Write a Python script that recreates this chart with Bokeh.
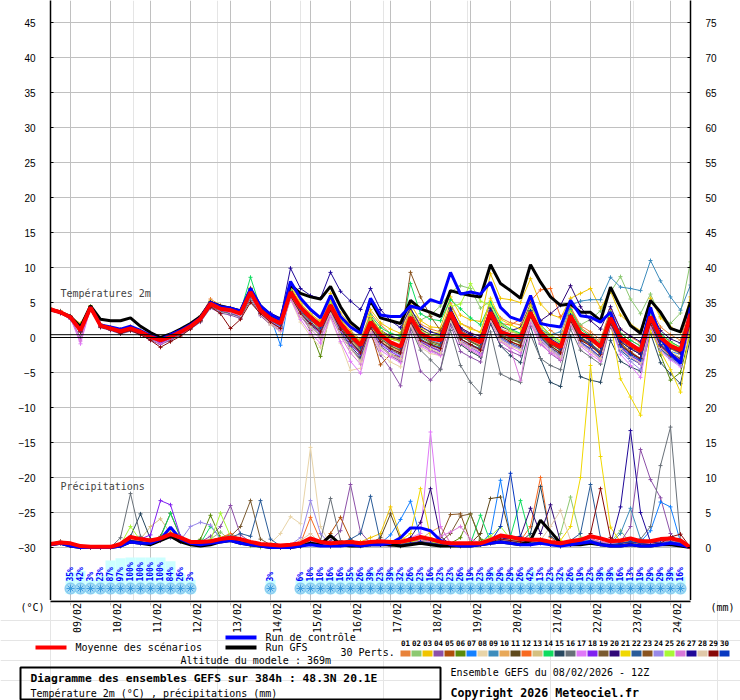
import math
from bokeh.plotting import figure
from bokeh.models import Range1d, LinearAxis, FixedTicker, Label, Span, Grid
from bokeh.embed import file_html
from bokeh.resources import INLINE
from bokeh.core.properties import value

# ---------------- data ----------------
hours = list(range(0, 385, 6))                      # forecast steps (h) from 08/02 12Z
day_ticks = list(range(12, 384, 24))                # 00Z of each day
date_labels = ["09/02", "10/02", "11/02", "12/02", "13/02", "14/02", "15/02", "16/02",
               "17/02", "18/02", "19/02", "20/02", "21/02", "22/02", "23/02", "24/02"]
temp_ticks = list(range(-30, 50, 5))
mm_ticks = list(range(0, 80, 5))

snow_hours = [12, 18, 24, 30, 36, 42, 48, 54, 60, 66, 72, 78, 84, 132] + list(range(150, 384, 6))
snow_pct = [35, 42, 3, 23, 87, 97, 100, 100, 100, 100, 84, 26, 3, 3,
            6, 10, 10, 16, 16, 35, 26, 39, 23, 39, 32,
            26, 23, 16, 23, 23, 26, 19, 23, 39, 29,
            29, 26, 42, 13, 23, 32, 26, 19, 23, 39,
            39, 16, 13, 19, 29, 29, 39, 16]

member_ids = ["%02d" % k for k in range(1, 31)]
member_colors = ["#e8823a", "#8cc870", "#f0c400", "#8c50a8", "#b04e0a", "#5a8a0a", "#1480ff", "#e8d4a8",
                 "#3c8cbc", "#e8a858", "#604a1c", "#f86a20", "#d4c080", "#10dc60", "#284860", "#687078",
                 "#e078f8", "#8020f0", "#7a5a30", "#300878", "#f0d800", "#2a5c98", "#8a5420", "#9888e8",
                 "#a8f838", "#d878d8", "#200898", "#e0c8a8", "#880808", "#0838c0"]

# 2 m temperature (°C)
t_mean = [4.0,3.6,2.9,1.0,4.3,1.7,1.3,0.9,1.3,0.8,0.1,-0.4,0.1,0.8,1.6,
 2.7,4.8,4.1,3.9,3.4,6.5,3.9,2.7,2.0,6.5,4.3,2.9,1.7,4.6,2.0,0.3,-1.1,
 2.2,0.4,-0.7,-1.3,2.9,0.6,-0.1,-0.4,3.6,0.6,-0.1,-0.7,3.6,0.8,0.3,0.0,3.6,0.8,-0.6,-1.4,3.1,0.6,-0.1,-1.3,2.8,0.0,-1.0,-1.9,3.0,0.0,-1.2,-1.8,3.4]
t_ctrl = [4.0,3.6,2.9,1.0,4.3,1.8,1.5,1.2,1.6,1.0,0.3,-0.3,0.4,1.0,1.8,
 2.8,5.0,4.4,4.2,3.8,7.0,4.5,3.3,2.5,8.0,5.6,4.0,2.8,6.0,3.0,1.5,0.6,
 5.6,3.2,3.0,3.0,4.5,4.1,5.4,4.9,9.3,6.2,6.5,6.2,7.9,4.3,2.9,2.4,6.0,2.0,1.7,1.5,5.3,3.1,2.9,2.2,3.6,0.0,-0.9,-1.9,4.3,0.0,-2.3,-3.7,4.3]
t_gfs = [4.0,3.6,3.0,1.5,4.5,2.6,2.4,2.4,2.8,1.6,0.7,0.0,0.5,1.2,2.0,
 3.0,5.0,4.5,4.2,3.8,6.8,4.5,3.2,2.6,7.5,6.3,5.8,5.5,7.3,4.4,2.2,1.0,
 5.3,2.8,2.4,2.0,5.3,4.1,3.6,3.0,6.7,6.3,6.0,5.8,10.4,7.7,6.7,5.6,10.4,7.9,5.8,4.6,4.8,3.6,3.6,2.4,7.2,4.3,1.7,0.6,5.3,3.6,1.3,0.8,5.0]

t01 = [4.2,3.8,3.0,1.3,4.4,1.9,1.5,1.2,1.6,1.0,0.4,-0.1,0.3,1.0,1.9,
 3.1,5.5,4.6,4.3,3.9,7.1,4.3,3.2,2.4,7.2,4.9,3.4,2.3,5.3,2.6,1.0,-0.3,
 3.5,1.8,0.6,0.2,4.1,1.9,1.2,0.8,4.9,2.0,1.4,0.7,5.0,2.8,2.1,1.8,5.4,2.4,1.0,0.1,4.4,1.7,0.8,-0.3,4.0,1.2,0.1,-0.8,4.2,1.5,0.4,-0.4,4.8]
t02 = [3.9,3.5,2.8,0.8,4.4,1.6,1.1,0.7,1.2,0.6,-0.1,-0.6,0.0,0.7,1.5,
 2.5,4.6,4.0,3.6,3.2,6.6,3.6,2.5,1.7,6.8,4.0,2.6,1.5,4.9,1.8,0.0,-1.2,
 2.6,0.9,0.1,-0.3,3.8,2.5,3.2,4.5,6.5,7.4,7.0,4.2,5.2,2.0,1.0,0.5,3.8,1.2,0.2,-0.8,3.5,1.8,2.6,3.8,6.5,8.7,5.5,3.4,6.2,3.0,2.0,3.5,10.8]
t03 = [4.1,3.7,3.0,2.0,4.5,1.8,1.4,1.0,1.5,0.9,0.2,-0.3,0.3,1.0,1.8,
 2.9,5.2,4.4,4.1,3.6,6.9,4.2,3.0,2.3,7.6,5.2,3.8,2.6,6.3,3.5,1.8,0.6,
 4.0,2.1,1.2,0.6,4.8,2.4,1.5,1.4,5.8,3.2,2.5,2.3,9.1,5.6,5.4,5.0,8.4,4.8,3.3,2.8,5.6,6.3,7.0,4.2,6.6,3.2,1.9,1.0,5.6,2.8,1.5,0.8,5.8]
t04 = [3.8,3.4,2.6,0.0,4.0,1.4,1.0,0.5,0.9,0.4,-0.4,-1.0,-0.4,0.4,1.2,
 2.2,4.2,3.5,3.2,2.7,5.8,3.1,1.8,0.9,5.8,3.2,1.6,0.3,3.4,0.5,-1.5,-3.0,
 0.4,-2.5,-4.5,-6.9,1.0,-4.8,-6.1,-4.5,1.8,-2.0,-2.8,-3.5,2.0,-1.2,-2.0,-2.6,2.5,-0.8,-2.3,-3.3,1.8,-0.6,-1.8,-3.0,1.5,-1.5,-2.9,-3.8,1.8,-1.6,-3.0,-3.6,2.2]
t05 = [4.0,3.6,2.8,0.9,4.2,1.5,1.2,0.7,1.1,0.6,-0.2,-0.8,-0.2,0.6,1.4,
 2.4,4.4,3.8,3.5,3.0,6.1,3.5,2.2,1.4,6.0,3.6,2.1,0.9,3.9,1.2,-0.8,-2.3,
 1.0,-3.9,-2.4,-2.8,2.1,-0.6,-1.4,-1.9,2.8,-0.5,-1.2,-1.6,3.0,0.2,-0.6,-1.1,2.8,0.0,-1.5,-2.4,2.2,-0.4,-1.0,-2.4,1.9,-0.8,-2.0,-3.0,2.0,-1.0,-2.3,-3.2,2.4]
t06 = [3.9,3.5,2.8,0.9,4.2,1.6,1.2,0.8,1.2,0.7,0.0,-0.5,0.0,0.7,1.5,
 2.6,4.7,4.0,3.8,3.3,6.3,3.6,2.3,1.5,6.2,3.4,1.0,-2.7,3.8,1.5,-0.2,-1.8,
 1.6,-0.2,-1.2,-1.9,2.3,0.1,-0.8,-1.2,3.0,0.2,-0.6,-1.4,3.1,0.3,-0.3,-0.8,3.0,0.2,-1.2,-2.1,2.5,0.0,-0.9,-2.0,2.1,-0.8,-2.2,-3.2,1.8,-2.5,-6.1,-5.0,0.8]
t07 = [4.0,3.6,2.9,1.0,4.3,1.7,1.4,1.0,1.4,0.9,0.2,-0.3,0.2,0.9,1.7,
 2.8,5.0,4.3,4.1,3.6,6.8,4.1,2.9,-1.1,6.9,4.6,3.1,1.9,4.8,2.2,0.5,-0.8,
 2.6,0.6,-0.6,-1.2,3.4,0.9,0.0,-0.3,4.0,0.8,-0.2,-0.8,4.2,1.2,0.4,-0.2,3.9,0.6,-0.8,-1.8,3.4,0.4,-0.6,-2.4,2.0,-1.8,-3.0,-3.6,2.4,-0.6,-2.0,-2.4,2.6]
t08 = [4.1,3.7,3.0,1.2,4.4,1.9,1.5,1.0,1.4,0.9,0.2,-0.3,0.2,0.9,1.8,
 2.9,5.0,4.2,3.9,3.3,6.2,3.3,1.8,0.8,5.5,2.2,0.2,-1.4,2.8,-0.8,-4.7,-4.4,
 0.8,-2.2,-3.5,-4.2,1.6,-1.4,-2.3,-2.6,2.4,-1.0,-2.0,-2.8,2.6,-0.6,-1.2,-1.8,2.8,-0.2,-1.6,-2.8,2.6,-0.4,-1.2,-2.6,2.4,-1.0,-2.2,-3.0,2.8,-0.8,-2.0,-2.8,3.0]
t09 = [4.0,3.6,2.9,1.0,4.3,1.7,1.3,0.9,1.3,0.8,0.1,-0.4,0.1,0.8,1.6,
 2.7,4.9,4.2,4.0,3.5,6.6,4.0,2.8,2.1,6.5,4.2,2.7,1.5,4.4,1.6,-0.2,-1.6,
 1.8,0.0,-1.0,-1.6,2.6,0.4,-0.4,-0.9,3.4,0.4,-0.5,-1.2,3.4,0.6,0.0,-0.5,3.5,1.2,0.4,0.8,4.6,5.2,5.4,5.4,8.6,7.2,7.0,6.7,11.0,8.1,5.8,3.9,7.5]
t10 = [4.1,3.7,3.0,1.1,4.4,1.8,1.3,0.9,1.3,0.8,0.1,-0.4,0.2,0.9,1.7,
 2.8,4.9,4.1,3.8,3.2,6.4,3.7,2.4,1.6,6.1,3.8,2.3,1.1,4.2,1.4,-0.3,-1.8,
 1.6,-0.4,-1.4,-2.0,2.6,0.2,-0.6,-1.0,3.2,0.4,-0.4,-1.0,3.4,1.2,0.8,0.4,3.6,1.0,-0.2,-1.0,3.0,0.2,-0.5,-1.6,2.6,-0.6,-1.6,-2.4,2.5,-0.5,-1.6,-2.4,3.0]
t11 = [3.9,3.5,2.8,0.8,4.2,1.6,1.2,0.8,1.2,0.7,-0.1,-0.6,-0.1,0.6,1.4,
 2.5,4.7,4.0,3.7,3.2,6.4,3.6,2.4,1.6,6.2,3.8,2.5,1.3,4.3,1.5,-0.5,-2.0,
 1.4,-0.6,-1.8,-2.4,2.2,-0.4,-1.2,-1.5,2.9,-0.2,-1.0,-1.8,3.0,0.4,-0.2,-0.7,3.2,0.4,-1.0,-1.8,2.6,-0.2,-1.0,-2.2,2.2,-1.2,-2.2,-3.0,2.2,-1.0,-2.2,-3.0,2.4]
t12 = [4.2,3.8,3.1,1.2,4.5,1.9,1.4,1.0,1.4,0.9,0.2,-0.3,0.2,0.9,1.7,
 2.8,5.0,4.3,4.0,3.5,6.7,4.0,2.8,2.0,6.6,4.4,3.0,1.8,4.7,2.1,0.4,-0.9,
 2.5,0.8,-0.2,-0.6,3.4,1.2,0.4,0.0,4.0,1.4,0.6,0.2,4.2,2.0,1.8,2.6,5.2,6.8,7.0,3.0,4.2,1.4,0.4,-0.6,3.4,0.6,-0.4,-1.2,3.2,0.4,-0.6,-1.4,3.6]
t13 = [4.0,3.6,2.9,1.0,4.4,1.7,1.3,0.9,1.4,0.9,0.2,-0.3,0.2,0.9,1.7,
 2.8,4.8,4.1,3.8,3.3,6.4,3.8,2.6,1.8,6.4,4.1,2.6,1.4,4.4,1.8,0.0,-1.3,
 2.0,0.2,-0.8,-1.4,2.8,0.6,-0.2,-0.6,3.4,0.4,-0.4,-1.0,3.4,0.8,0.2,-0.2,3.6,0.8,-0.4,-1.4,3.0,0.4,-0.4,-1.6,2.8,-0.4,-1.4,-2.2,3.0,-0.2,-1.2,-2.0,3.4]
t14 = [4.1,3.7,3.0,1.8,4.5,1.8,1.4,1.0,1.4,0.9,0.2,-0.3,0.3,1.0,1.8,
 2.9,5.1,4.4,4.2,3.7,8.6,4.2,3.0,2.2,7.0,4.6,3.1,1.9,5.0,2.4,0.6,-0.6,
 3.2,1.4,0.6,0.2,7.7,3.4,2.6,2.4,5.4,4.1,2.8,1.8,5.0,2.2,1.2,0.6,4.6,1.8,0.4,-0.6,4.0,1.2,0.2,-0.8,3.6,0.6,-0.4,-1.2,3.4,0.6,-0.6,-1.4,3.8]
t15 = [3.9,3.5,2.8,0.9,4.1,1.5,1.1,0.7,1.1,0.6,-0.1,-0.7,-0.2,0.6,1.4,
 2.4,4.5,3.8,3.5,3.0,6.0,3.4,2.1,1.2,5.8,3.4,1.8,0.6,3.6,0.8,-1.2,-2.8,
 1.0,-1.2,-2.4,-3.0,1.8,-0.8,-1.8,-2.4,2.2,-1.0,-2.0,-2.8,2.0,-1.2,-2.6,-3.6,1.6,-3.0,-6.4,-7.0,0.2,-5.6,-6.1,-6.4,-0.4,-3.4,-4.2,-4.8,0.6,-3.6,-5.2,-6.6,0.0]
t16 = [3.9,3.5,2.7,0.8,4.0,1.5,1.1,0.6,1.0,0.5,-0.2,-0.8,-0.3,0.5,1.3,
 2.3,4.4,3.7,3.4,2.9,5.3,3.3,2.0,1.1,5.6,3.1,1.5,0.2,3.2,0.4,-1.6,-3.2,
 0.8,-1.2,-2.6,-3.4,1.4,-1.8,-3.2,-4.6,1.0,-4.0,-6.4,-8.0,0.8,-5.2,-5.9,-6.4,0.4,-3.0,-4.0,-4.6,1.2,-1.8,-2.8,-3.8,1.6,-1.4,-2.6,-3.4,2.0,-1.6,-3.0,-4.0,1.8]
t17 = [4.0,3.6,2.8,-0.9,4.2,1.6,1.2,0.8,1.2,0.6,-0.1,-0.9,-0.2,0.6,1.5,
 2.6,4.6,3.9,3.6,3.1,6.1,3.3,2.0,1.0,5.5,2.6,0.6,-0.8,3.0,-0.6,-3.4,-5.1,
 0.8,-1.8,-2.8,-3.6,1.8,-1.2,-2.0,-2.6,2.4,-0.8,-1.6,-2.4,2.6,-0.4,-1.4,-2.2,2.4,-0.8,-2.0,-3.0,2.0,-1.2,-2.4,-3.4,1.8,-2.4,-4.0,-5.7,1.4,-2.0,-3.2,-4.2,2.0]
t18 = [3.9,3.5,2.7,0.9,4.1,1.6,1.2,0.8,1.1,0.6,-0.1,-0.7,-0.1,0.6,1.4,
 2.5,4.6,3.9,3.6,3.0,6.2,3.6,2.3,1.4,6.0,3.6,2.0,0.6,3.8,1.0,-1.0,-2.4,
 1.2,-1.0,-2.0,-2.8,2.0,-0.6,-1.4,-2.0,2.6,-0.6,-1.4,-2.2,2.8,-0.2,-1.0,-1.6,2.8,-0.4,-1.8,-2.8,2.4,-0.8,-1.6,-2.8,2.2,-1.4,-2.6,-3.4,2.2,-1.2,-2.4,-3.2,2.6]
t19 = [4.0,3.6,2.9,1.0,4.3,1.7,1.3,0.9,1.3,0.8,0.1,-0.4,0.1,0.8,1.6,
 2.7,4.8,4.1,3.8,3.3,6.4,3.8,2.6,1.8,6.3,4.0,2.5,1.3,4.2,1.6,-0.1,-1.5,
 1.8,-0.2,-1.2,-1.8,2.6,0.2,-0.6,-1.0,3.2,0.2,-0.6,-1.2,3.2,0.4,-0.2,-0.6,3.4,0.6,-0.6,-1.6,2.8,0.0,-0.8,-2.0,2.4,-0.6,-1.6,-2.4,2.6,-0.4,-1.6,-2.2,3.0]
t20 = [4.1,3.7,3.0,1.1,4.4,1.8,1.4,1.0,1.4,0.9,0.2,-0.3,0.2,0.9,1.7,
 2.8,5.0,4.3,4.1,3.6,6.8,4.2,3.0,2.3,7.0,4.6,3.2,2.0,5.0,2.4,0.6,-0.6,
 2.8,1.0,0.2,-0.2,3.6,1.2,0.4,0.2,4.2,1.4,0.6,0.2,4.2,1.6,1.0,1.4,4.8,2.4,3.4,4.6,7.4,4.4,2.4,1.2,4.4,1.2,0.2,-0.6,3.8,1.0,-0.2,-0.8,3.8]
t21 = [4.1,3.7,3.0,1.2,4.5,1.9,1.5,1.1,1.5,1.0,0.3,-0.2,0.3,1.0,1.8,
 3.0,5.2,4.5,4.2,3.7,7.0,4.3,3.1,2.3,7.3,4.8,3.4,2.2,5.2,2.6,0.8,-0.5,
 3.0,1.0,0.0,-0.4,3.8,1.4,0.8,0.6,4.6,2.0,1.2,0.8,5.6,2.6,1.8,1.2,4.6,1.6,0.4,-0.4,3.6,0.8,0.0,-1.0,2.2,-5.9,-8.5,-11.1,1.0,-2.0,-4.6,-7.8,2.0]
t22 = [4.0,3.6,2.9,1.0,4.3,1.7,1.2,0.8,1.2,0.7,0.0,-0.5,0.0,0.7,1.5,
 2.6,4.7,4.0,3.7,3.2,6.3,3.7,2.4,1.6,6.1,3.7,2.2,1.0,4.0,1.2,-0.6,-2.0,
 1.4,-0.6,-1.6,-2.2,2.2,-0.2,-1.0,-1.4,2.8,-0.2,-1.0,-1.6,3.0,0.0,-0.8,-1.4,3.0,0.0,-1.4,-2.4,2.4,-0.6,-1.6,-2.8,1.8,-1.8,-3.0,-3.8,1.6,-1.6,-2.8,-3.6,2.4]
t23 = [4.1,3.7,3.0,1.1,4.4,1.8,1.4,1.0,1.4,0.9,0.2,-0.3,0.2,0.9,1.7,
 2.8,4.9,4.2,4.0,3.5,6.6,4.0,2.8,2.0,6.7,4.4,3.0,1.8,4.9,2.3,0.6,-0.7,
 2.6,0.8,0.0,-0.4,9.3,5.8,3.0,1.0,4.0,1.0,0.2,-0.4,3.8,0.8,0.2,-0.2,3.8,0.8,-0.4,-1.2,3.2,0.4,-0.4,-1.4,2.8,-0.4,-1.4,-2.2,2.8,-0.4,-1.4,-2.2,3.2]
t24 = [4.0,3.6,2.9,1.0,4.3,1.7,1.3,0.9,1.3,0.8,0.1,-0.5,0.0,0.7,1.6,
 2.7,4.8,4.0,3.7,3.2,6.3,3.6,2.3,1.5,6.0,3.6,2.1,0.8,3.8,1.0,-0.8,-2.2,
 1.2,-0.8,-1.8,-2.6,2.0,-0.4,-1.2,-1.8,2.6,-0.4,-1.2,-2.0,2.8,-0.2,-1.0,-1.6,2.8,-0.2,-1.6,-2.6,2.4,-0.8,-1.8,-3.0,1.8,-2.0,-3.4,-4.6,1.6,-1.8,-3.0,-4.0,2.2]
t25 = [4.1,3.7,3.0,1.1,4.4,1.8,1.4,1.0,1.4,0.9,0.2,-0.3,0.2,0.9,1.7,
 2.8,4.9,4.2,4.0,3.5,6.7,4.1,2.9,2.1,6.8,4.5,3.1,1.9,4.9,2.3,0.5,-0.7,
 2.6,0.8,-0.2,-0.6,3.4,1.0,0.4,0.2,4.4,4.8,7.7,5.2,4.6,1.8,1.0,0.4,4.0,1.2,0.0,-0.8,3.4,0.6,-0.2,-1.2,3.0,0.0,-1.0,-1.8,3.2,0.2,-0.8,-1.6,3.6]
t26 = [4.0,3.6,2.8,-0.5,4.2,1.6,1.2,0.8,1.2,0.7,-0.1,-0.6,-0.1,0.6,1.4,
 2.5,4.6,3.9,3.6,3.1,6.1,3.4,2.1,1.2,5.7,3.0,1.2,-0.2,3.4,0.2,-2.2,-3.8,
 0.8,-1.4,-2.6,-3.2,1.8,-1.0,-1.8,-2.4,2.4,-0.8,-1.8,-2.6,2.4,-0.6,-1.6,-6.1,2.0,-1.0,-2.2,-3.2,2.0,-1.0,-2.0,-3.2,1.8,-1.6,-2.8,-3.8,1.6,-1.4,-2.6,-3.6,2.2]
t27 = [4.1,3.7,3.0,1.1,4.4,1.8,1.4,1.0,1.4,0.9,0.2,-0.3,0.2,0.9,1.7,
 2.9,5.1,4.4,4.2,3.8,7.0,4.5,3.5,2.8,9.9,7.0,6.0,5.6,9.3,6.6,5.2,4.0,
 7.0,4.0,2.4,1.4,4.2,1.6,0.8,0.4,4.2,1.2,0.4,-0.2,3.8,1.0,0.4,0.0,3.8,1.0,-0.2,-1.0,3.2,0.4,-0.4,-1.4,2.8,-0.6,-1.6,-2.4,2.6,-0.4,-1.4,-2.2,3.0]
t28 = [4.0,3.6,2.9,1.0,4.3,1.7,1.3,0.9,1.3,0.8,0.1,-0.4,0.1,0.8,1.6,
 2.7,4.7,4.0,3.7,3.1,6.1,3.3,2.0,1.2,5.8,3.2,1.6,0.2,3.6,0.4,-1.6,-3.4,
 1.0,-1.4,-2.4,-3.0,1.8,-0.8,-1.6,-2.2,2.4,-0.6,-1.4,-2.0,2.6,-0.4,-1.2,-1.8,2.6,-0.6,-1.8,-2.8,2.2,-1.0,-2.0,-3.0,2.0,-1.6,-2.8,-3.6,2.0,-1.4,-2.6,-3.4,2.4]
t29 = [3.9,3.5,2.8,0.8,4.2,1.5,1.1,0.6,1.0,0.4,-0.4,-1.4,-0.6,0.2,1.2,
 2.4,4.4,3.4,1.3,2.6,5.0,3.4,2.2,1.3,5.9,3.5,2.0,0.8,3.9,1.2,-0.6,-2.2,
 1.4,-0.6,-1.6,-2.2,2.2,-0.4,-1.0,-1.6,2.8,-0.2,-1.0,-1.8,2.8,0.2,-0.6,-1.2,3.0,0.2,-1.2,-2.2,2.4,-0.4,-1.2,-2.4,2.0,-1.0,-2.2,-3.0,2.0,-1.2,-2.6,-3.4,2.2]
t30 = [4.0,3.6,2.9,1.0,4.3,1.7,1.3,0.9,1.3,0.8,0.1,-0.4,0.1,0.8,1.6,
 2.7,4.8,4.1,3.9,3.4,6.5,3.9,2.7,1.9,6.4,4.1,2.7,1.5,4.5,1.8,0.0,-1.3,
 2.0,0.2,-0.8,-1.4,2.8,0.6,-0.2,-0.6,3.6,0.6,-0.2,-0.8,3.6,0.8,0.2,-0.2,3.6,0.6,-0.6,-1.6,3.0,0.0,-1.0,-2.2,2.4,-1.2,-2.4,-3.2,2.6,-1.0,-2.4,-3.4,3.0]

# 6-hourly precipitation (mm)
pr_mean = [0.5,0.7,0.6,0.2,0.1,0.1,0.1,0.5,1.5,1.2, 1.0,1.3,1.9,1.4,0.8,0.8,0.9,1.2,1.4,1.2,
 0.8,0.5,0.4,0.3,0.4,0.6,1.3,0.8,0.6,0.7, 0.8,0.6,0.8,0.9,0.8,0.8,1.1,1.5,1.2,0.8,
 0.6,0.6,0.6,0.6,1.1,1.7,1.5,1.2,1.1,1.1, 0.8,0.6,0.9,1.1,1.6,1.3,0.9,1.0,1.3,0.9, 0.9,1.2,1.3,1.0,0.0]
pr_ctrl = [0.4,0.6,0.2,0,0,0,0,0.2,0.8,0.6, 0.6,1.2,2.9,1.2,0.6,0.4,0.6,0.8,1.0,0.6,
 0.4,0.2,0,0,0,0.2,0.4,0.2,0.2,0.2, 0.4,0.2,0.4,0.4,0.6,1.4,2.8,2.8,2.4,1.0,
 0.4,0.2,0.2,0.4,0.6,0.8,0.6,0.4,0.4,0.6, 0.4,0.2,0.4,0.6,0.8,0.4,0.2,0.2,0.4,0.2, 0.2,0.4,0.6,0.4,0]
pr_gfs = [0.4,0.6,0.2,0,0,0,0,0.2,0.8,0.6, 0.4,1.0,1.6,0.8,0.4,0.2,0.4,0.8,1.0,0.6,
 0.4,0.2,0,0,0,0.2,0.6,0.4,1.7,0.4, 0.2,0.2,0.4,0.4,0.4,0.2,0.4,0.6,0.4,0.2,
 0.2,0.2,0.2,0.4,0.6,0.8,0.6,0.4,1.0,3.9, 2.3,0.6,0.4,0.4,0.6,0.4,0.2,0.2,0.4,0.2, 0.2,0.4,0.4,0.2,0]

pr01 = [0.5,0.8,0.4,0,0,0,0,0.3,1.2,1.0, 0.8,1.5,2.0,1.0,0.6,0.5,0.8,1.0,1.6,0.8, 0.4,0.2,0,0,0.2,0.6,1.0,0.4,0.2,0.4,
 0.6,0.2,0.4,0.6,0.4,0.3,0.8,1.2,0.8,0.4, 0.2,0.3,0.2,0.4,0.8,1.6,1.4,0.8,1.0,1.2, 0.6,0.3,0.6,0.8,1.2,0.8,0.6,0.4,0.8,1.0, 0.6,0.8,1.2,0.6,0]
pr02 = [0.4,0.6,0.3,0,0,0,0,0.2,0.8,0.6, 0.5,1.0,1.6,0.8,0.4,0.6,1.2,2.2,1.0,0.6, 0.2,0,0,0,0,0.4,0.8,0.3,0.2,0.2,
 0.4,0.2,0.6,0.4,0.2,0.2,0.6,0.8,0.4,0.2, 0.2,0.4,0.6,0.4,0.6,1.2,1.0,0.6,0.8,0.6, 0.4,2.0,7.2,1.5,0.6,0.4,0.8,2.4,0.6,0.4, 0.4,0.6,0.8,0.4,0]
pr03 = [0.6,0.8,0.4,0,0,0,0,0.2,1.0,0.8, 0.6,1.2,2.2,1.4,0.8,0.6,1.0,1.4,1.8,1.0, 0.6,0.4,0.2,0,0,0.4,0.8,0.6,0.4,0.6,
 0.8,0.8,1.4,2.0,5.8,1.6,0.8,1.0,0.6,0.4, 0.4,0.2,0.2,0.4,0.6,1.0,0.8,0.6,0.6,0.8, 0.4,0.2,0.4,0.6,0.8,0.6,0.4,0.6,0.8,0.6, 0.4,0.6,0.8,0.6,0]
pr04 = [0.4,0.6,0.2,0,0,0,0,0.2,0.8,0.6, 0.6,1.0,1.4,0.8,0.6,0.8,1.6,3.0,6.0,1.8, 0.8,0.4,0.2,0,0,0.2,0.6,0.4,1.0,2.4,
 9.0,2.2,0.6,0.4,0.2,0.4,0.6,1.0,0.6,0.4, 0.2,0.2,0.4,0.4,0.6,1.0,0.8,0.6,0.4,0.6, 0.4,0.2,0.4,0.6,0.8,0.6,0.4,0.8,3.0,14.0, 9.7,7.1,2.0,0.6,0]
pr05 = [0.6,0.8,0.4,0,0,0,0,0.4,1.2,0.8, 0.6,1.4,1.8,1.2,0.6,0.4,0.6,1.0,1.4,1.0, 0.8,0.4,0.2,0,0.2,0.4,1.2,0.6,2.0,4.3,
 1.2,0.4,0.6,0.4,0.4,0.2,0.6,1.0,0.8,0.4, 0.2,0.2,0.4,0.4,0.8,1.4,1.2,0.8,0.6,0.8, 0.6,0.4,0.6,0.8,1.2,0.8,0.6,0.4,0.6,0.8, 0.6,0.8,1.0,0.6,0]
pr06 = [0.5,0.7,0.3,0,0,0,0,0.3,1.0,0.8, 0.6,1.2,1.6,1.0,0.6,1.2,4.6,1.4,1.2,0.8, 0.4,0.2,0,0,0,0.4,0.8,0.4,0.2,0.4,
 0.6,0.4,0.4,0.6,0.4,0.2,0.6,0.8,0.6,0.4, 0.6,1.4,4.8,1.2,0.8,1.2,1.0,0.6,0.8,0.8, 0.4,0.2,0.6,0.8,1.0,0.6,0.4,0.6,0.8,0.6, 0.4,0.8,1.0,0.4,0]
pr07 = [0.6,0.7,0.4,0,0,0,0,0.2,0.8,0.6, 0.6,1.2,1.8,1.0,0.6,0.4,0.6,1.0,1.6,1.2, 0.6,0.4,0.2,0,0,0.2,0.6,0.4,0.2,0.4,
 0.6,0.4,0.8,0.6,1.8,4.0,6.6,1.4,0.6,0.4, 0.2,0.4,0.2,0.6,2.0,9.6,1.6,0.6,0.8,0.8, 0.4,0.2,0.6,0.8,1.0,0.6,0.4,0.6,1.0,0.8, 2.4,6.5,5.8,0.8,0]
pr08 = [0.5,0.8,0.4,0,0,0,0,0.2,1.0,0.8, 0.6,1.0,1.6,1.2,0.6,0.4,0.8,1.2,1.4,0.8, 0.6,0.4,0.6,2.0,4.4,3.4,14.3,3.0,0.4,0.4,
 0.6,0.2,0.6,0.4,0.4,0.4,0.6,0.8,0.6,0.4, 0.2,0.4,0.4,0.6,1.0,1.6,1.2,0.6,0.6,0.8, 0.4,0.6,0.8,0.6,0.8,0.6,0.4,0.6,0.8,0.6, 0.6,0.8,1.0,0.6,0]
pr09 = [0.5,0.6,0.3,0,0,0,0,0.3,1.2,0.8, 0.6,1.0,1.6,1.0,0.6,0.6,1.0,1.4,1.8,1.2, 0.6,0.4,0.2,0,0,0.2,0.6,0.4,0.2,0.4,
 0.8,0.4,0.4,0.6,0.6,0.4,0.8,1.4,1.0,0.6, 0.4,0.4,0.4,0.6,0.8,1.4,1.2,0.8,1.0,0.8, 0.6,0.4,0.6,0.8,1.2,0.8,0.6,2.0,5.6,1.2, 0.8,1.0,1.2,0.6,0]
pr10 = [0.6,0.8,0.4,0,0,0,0,0.3,1.0,0.8, 0.8,1.2,1.8,1.2,0.8,0.6,0.8,1.0,1.4,1.0, 0.6,0.4,0.2,0,0,0.4,0.6,0.4,0.4,0.6,
 0.6,0.4,0.6,0.8,1.0,0.6,0.8,1.2,2.2,3.0, 0.6,0.4,0.4,0.6,0.8,1.2,1.0,0.8,0.6,0.8, 0.6,0.4,0.6,0.8,1.0,0.6,0.4,0.6,0.8,0.6, 0.6,0.8,1.0,0.6,0]
pr11 = [0.6,0.9,0.4,0,0,0,0,0.3,1.2,1.0, 0.8,1.6,4.9,1.4,0.8,0.4,0.8,1.2,1.6,1.0, 0.6,0.4,0.2,0,0,0.2,0.8,0.4,0.2,0.4,
 0.6,0.4,0.6,1.4,4.8,1.2,0.6,0.8,0.6,0.4, 0.2,0.4,0.6,2.0,7.0,7.2,1.6,0.8,0.6,0.8, 0.4,0.2,0.4,0.6,0.8,0.6,0.4,0.6,0.8,0.6, 0.4,0.6,0.8,0.6,0]
pr12 = [0.5,0.7,0.4,0,0,0,0,0.2,1.0,0.8, 0.6,1.2,1.8,1.0,0.6,0.6,1.0,1.4,2.0,1.2, 0.6,0.4,0.2,0,0,0.6,4.3,1.0,0.4,0.4,
 0.6,0.4,0.6,0.4,0.4,0.4,0.6,1.0,0.6,0.4, 0.2,0.2,0.4,0.6,0.8,1.4,1.2,1.0,3.0,10.0, 1.4,0.4,0.6,0.8,1.0,0.6,0.4,0.6,0.8,0.6, 0.4,0.8,1.0,0.6,0]
pr13 = [0.6,0.8,0.4,0,0,0,0,0.4,1.4,1.2, 3.0,4.1,2.0,1.2,0.6,0.4,0.6,1.0,1.4,0.8, 0.6,0.4,0.2,0,0,0.2,0.6,0.4,0.2,0.4,
 0.6,0.4,0.4,0.6,0.4,0.4,0.6,1.0,0.8,0.4, 0.2,0.2,0.4,0.4,0.8,1.4,1.0,0.8,0.6,0.8, 0.6,0.4,0.6,0.8,1.0,0.8,0.6,0.6,0.8,0.6, 0.6,0.8,1.0,0.6,0]
pr14 = [0.5,0.7,0.3,0,0,0,0,0.3,1.0,0.8, 0.6,1.4,4.9,1.6,0.8,0.6,3.0,1.4,1.6,1.0, 0.6,0.4,0.2,0,0,0.4,0.6,0.4,0.4,0.4,
 0.6,0.4,0.4,0.6,0.6,0.4,0.8,1.0,0.6,0.4, 0.2,0.4,0.6,4.6,0.8,1.2,1.6,6.7,1.2,0.8, 0.6,0.4,0.6,0.8,1.0,0.6,0.4,0.6,0.8,0.6, 0.6,0.8,1.0,0.6,0]
pr15 = [0.4,0.6,0.3,0,0,0,0,0.3,1.6,4.8, 1.2,1.0,1.6,1.0,0.6,0.4,0.8,1.2,1.4,0.8, 0.6,0.4,0.2,0,0,0.2,0.6,0.4,0.2,0.4,
 0.6,0.2,0.4,0.6,0.4,0.2,0.6,0.8,0.6,0.4, 0.2,0.2,0.4,0.4,0.6,1.2,1.0,0.8,2.0,8.7, 1.6,0.6,0.6,0.8,1.0,0.6,0.4,0.6,0.8,0.6, 0.4,0.6,0.8,0.6,0]
pr16 = [0.5,0.7,0.4,0,0,0,0,1.4,7.7,1.6, 0.8,1.0,1.6,1.0,0.6,0.4,0.8,1.0,1.4,0.8, 0.6,0.4,0.2,0,0,0.2,0.6,1.0,7.0,1.0,
 0.6,0.4,0.6,0.4,0.4,0.4,0.6,0.8,0.6,0.4, 0.2,0.4,0.4,0.6,0.8,1.2,1.0,0.8,0.6,0.8, 0.4,0.2,0.6,0.8,1.0,0.6,0.4,0.6,0.8,1.2, 3.0,11.7,17.2,1.0,0]
pr17 = [0.6,0.8,0.4,0,0,0,0,0.2,0.8,0.8, 0.6,1.2,1.6,1.0,0.6,0.4,0.8,1.2,1.6,1.0, 0.6,0.4,0.2,0,0,0.2,0.8,0.6,0.4,0.4,
 0.6,0.4,0.6,0.4,0.6,1.0,1.4,2.0,16.5,3.0, 0.6,0.4,0.6,0.8,1.0,1.4,1.2,0.8,0.6,0.8, 0.4,0.2,0.6,0.8,1.2,0.8,0.6,0.6,0.8,0.6, 0.6,0.8,1.2,0.6,0]
pr18 = [0.5,0.7,0.3,0,0,0,0,0.3,1.0,1.2, 1.8,6.7,6.1,1.6,0.6,0.4,0.6,1.0,1.4,0.8, 0.6,0.4,0.2,0,0,0.2,0.6,0.4,0.2,0.4,
 0.6,0.4,0.6,0.6,0.4,0.4,0.6,0.8,0.6,0.4, 0.2,0.4,0.4,0.6,0.8,1.4,1.2,0.8,0.6,1.0, 0.6,0.4,0.6,0.8,1.0,0.6,0.4,0.6,0.8,0.6, 0.6,0.8,1.0,0.6,0]
pr19 = [0.5,0.8,0.4,0,0,0,0,0.3,1.0,0.8, 0.6,1.2,1.6,1.2,0.6,0.4,0.8,1.2,1.6,3.0, 6.7,1.2,0.4,0,0,0.2,0.6,0.4,0.2,0.4,
 0.6,0.4,0.4,0.6,0.4,0.4,0.6,1.0,0.6,0.8, 2.0,4.5,4.8,1.0,0.8,1.2,1.0,0.8,0.6,0.8, 0.4,0.2,0.6,0.8,1.0,0.6,0.4,0.6,0.8,0.6, 0.4,0.6,1.0,0.6,0]
pr20 = [0.6,0.8,0.4,0,0,0,0,0.2,0.8,0.6, 0.6,1.0,1.6,1.0,0.6,0.4,0.8,1.2,1.4,1.0, 0.6,0.4,0.2,0,0,0.2,0.6,0.4,0.2,0.4,
 0.6,0.4,0.6,0.4,0.6,0.8,1.4,3.6,8.4,1.6, 0.4,0.4,0.4,0.6,0.8,1.2,1.4,1.6,5.6,2.0, 6.1,0.8,0.6,0.8,1.0,0.6,0.4,0.6,0.8,0.6, 0.4,0.6,0.8,0.6,0]
pr21 = [0.6,0.8,0.4,0,0,0,0,0.3,1.0,0.8, 0.6,1.2,1.8,1.2,0.8,0.6,1.0,1.4,1.6,1.0, 0.6,0.4,0.2,0,0,0.2,0.6,0.4,0.2,0.4,
 0.6,0.4,0.6,0.4,0.6,1.0,2.0,8.4,1.4,0.6, 0.4,0.4,0.6,0.6,0.8,1.2,1.0,0.8,0.6,0.8, 0.6,1.0,3.0,10.0,26.0,13.0,2.9,0.8,0.8,0.6, 0.4,0.6,0.8,0.6,0]
pr22 = [0.5,0.7,0.3,0,0,0,0,0.3,1.0,0.8, 0.6,1.2,1.6,1.0,0.6,0.4,0.8,1.0,1.4,2.0, 1.6,6.7,1.2,0.2,0,0.2,0.6,0.4,0.4,0.6,
 1.2,2.0,7.3,0.8,0.4,0.4,0.6,0.8,0.6,0.4, 0.2,0.4,0.4,0.6,0.8,1.2,1.0,0.8,0.6,0.8, 0.6,0.4,1.0,2.0,9.0,1.4,0.6,0.6,0.8,0.6, 0.6,0.8,1.0,0.6,0]
pr23 = [0.6,0.8,0.4,0,0,0,0,0.3,1.2,1.0, 0.8,1.4,2.0,1.2,0.6,0.4,0.8,1.2,1.6,1.0, 0.6,0.4,0.2,0,0,0.2,0.8,0.6,0.4,0.6,
 0.8,0.4,0.6,0.6,0.4,0.4,0.8,1.0,0.8,1.4, 4.7,4.8,0.8,0.6,0.8,1.2,1.0,0.8,0.6,0.8, 0.6,0.4,0.6,0.8,1.0,0.6,0.4,0.6,0.8,0.6, 0.6,0.8,1.0,0.6,0]
pr24 = [0.5,0.7,0.4,0,0,0,0,0.2,0.8,0.6, 0.6,1.0,1.4,1.0,3.0,3.6,3.2,1.2,1.4,0.8, 0.6,0.4,0.2,0,0.4,1.4,6.7,2.0,0.4,0.4,
 0.6,0.4,0.6,0.4,0.4,0.4,0.6,0.8,0.6,0.4, 0.2,0.4,0.4,0.6,0.8,1.2,1.0,0.8,0.6,0.8, 0.4,0.2,0.6,0.8,1.0,0.6,0.4,0.6,0.8,0.6, 0.4,0.6,0.8,0.6,0]
pr25 = [0.5,0.7,0.4,0,0,0,0,0.4,3.0,1.0, 0.6,1.2,1.8,1.2,0.6,0.4,1.0,4.9,1.6,1.0, 0.6,0.4,0.2,0,0,0.2,0.6,0.4,0.2,0.4,
 0.6,0.4,0.6,0.4,0.6,0.4,0.8,1.0,0.8,0.6, 0.4,0.4,0.6,0.8,1.6,3.0,1.2,0.8,0.6,0.8, 0.4,0.2,0.6,0.8,1.0,0.6,0.4,0.6,0.8,0.6, 0.4,0.6,0.8,0.6,0]
pr26 = [0.6,0.8,0.4,0,0,0,0,0.3,1.0,0.8, 0.6,1.0,1.6,1.2,0.6,0.4,0.8,1.2,1.6,1.0, 0.6,0.4,0.2,0,0,0.2,0.8,0.6,0.4,0.4,
 0.6,0.4,0.6,0.6,0.4,0.4,0.6,1.0,0.8,1.6, 2.2,3.0,1.2,0.6,0.8,1.2,1.0,0.8,0.6,0.8, 0.6,0.4,0.6,0.8,1.2,0.8,0.6,0.6,0.8,0.6, 0.6,0.8,1.0,0.6,0]
pr27 = [0.5,0.7,0.4,0,0,0,0,0.3,1.0,0.8, 0.6,1.2,1.6,1.0,0.6,0.4,0.8,1.2,1.4,0.8, 0.6,0.4,0.2,0,0,0.2,0.6,0.4,0.2,0.4,
 0.6,0.4,0.6,0.4,0.4,0.4,0.6,0.8,0.6,0.4, 0.2,0.4,0.4,0.6,0.8,1.2,1.0,0.8,0.6,0.8, 0.4,0.2,0.6,0.8,1.0,0.6,0.4,5.8,16.7,5.0, 0.8,0.6,0.8,0.6,0]
pr28 = [0.6,0.8,0.4,0,0,0,0,0.4,1.2,1.0, 0.6,1.2,1.8,1.2,0.6,0.4,0.8,1.2,1.4,1.0, 0.6,0.4,0.2,0,0.2,1.0,2.0,0.6,0.2,0.4,
 0.6,0.4,0.4,0.6,0.4,0.4,0.6,0.8,0.6,0.4, 0.2,0.4,0.4,0.6,0.8,1.2,1.0,0.8,0.6,1.0, 3.0,5.3,1.0,0.8,1.0,0.6,0.4,0.6,0.8,0.6, 0.4,0.6,0.8,0.6,0]
pr29 = [0.5,0.7,0.3,0,0,0,0,0.3,1.0,0.8, 0.6,1.2,1.6,1.0,0.6,0.4,0.8,1.0,1.4,0.8, 0.6,0.4,0.2,0,0,0.2,0.6,0.4,0.2,0.4,
 0.6,0.4,0.6,0.4,0.4,0.4,0.6,0.8,0.6,0.4, 0.2,0.4,0.4,0.6,0.8,1.2,1.0,0.8,0.6,0.8, 0.4,0.4,0.6,0.8,2.0,8.4,1.4,0.6,0.8,0.6, 0.4,0.6,1.5,1.9,0]
pr30 = [0.5,0.7,0.4,0,0,0,0,0.3,1.0,0.8, 0.6,1.2,1.6,1.0,0.6,0.4,0.8,1.2,1.4,0.8, 0.6,0.4,0.2,0,0,0.2,0.6,0.4,0.2,0.4,
 0.6,0.4,0.6,0.4,0.4,0.4,0.6,0.8,0.6,0.4, 0.2,0.4,0.4,0.6,0.8,3.0,10.6,1.4,0.6,0.8, 0.4,0.2,0.6,0.8,1.0,0.6,0.4,0.6,0.8,0.6, 0.4,0.6,0.8,0.6,0]

temps = [t01, t02, t03, t04, t05, t06, t07, t08, t09, t10, t11, t12, t13, t14, t15,
         t16, t17, t18, t19, t20, t21, t22, t23, t24, t25, t26, t27, t28, t29, t30]
precs = [pr01, pr02, pr03, pr04, pr05, pr06, pr07, pr08, pr09, pr10, pr11, pr12, pr13, pr14, pr15,
         pr16, pr17, pr18, pr19, pr20, pr21, pr22, pr23, pr24, pr25, pr26, pr27, pr28, pr29, pr30]
for i, s in enumerate(temps + precs + [t_mean, t_ctrl, t_gfs, pr_mean, pr_ctrl, pr_gfs]):
    assert len(s) == len(hours), (i, len(s))
assert len(snow_hours) == len(snow_pct)

# ---------------- main chart ----------------
MONO = "DejaVu Sans Mono"
y_lo, y_hi = -37.571, 48.143
p = figure(width=740, height=600, x_range=Range1d(0, 384), y_range=Range1d(y_lo, y_hi),
           output_backend="svg", toolbar_location=None, x_axis_location=None,
           min_border_left=50, min_border_right=50, min_border_top=0, min_border_bottom=0)
p.outline_line_color = None
p.extra_y_ranges = {"mm": Range1d(y_lo + 30, y_hi + 30)}

lax = p.yaxis[0]
lax.ticker = FixedTicker(ticks=temp_ticks)
rax = LinearAxis(y_range_name="mm", ticker=FixedTicker(ticks=mm_ticks))
p.add_layout(rax, "right")
for a in (lax, rax):
    a.axis_line_color = "black"
    a.axis_line_width = 1.5
    a.major_tick_in = 3
    a.major_tick_out = 0
    a.major_tick_line_color = "black"
    a.minor_tick_line_color = None
    a.major_label_text_font = "Liberation Sans"
    a.major_label_text_font_size = "10px"
    a.major_label_text_color = "black"
    a.major_label_standoff = 15

p.ygrid.ticker = FixedTicker(ticks=temp_ticks)
p.ygrid.grid_line_color = "#c0c0c0"
p.add_layout(Grid(dimension=0, ticker=FixedTicker(ticks=day_ticks), grid_line_color="#c0c0c0"))

p.add_layout(Span(location=0.0, dimension="width", line_color="black", line_width=1))
p.add_layout(Span(location=0.4, dimension="width", line_color="black", line_width=1))

p.add_layout(Label(x=6, y=6.3, text="Températures 2m", text_font=MONO,
                   text_font_size="10px", text_baseline="middle"))
p.add_layout(Label(x=6, y=-21.3, text="Précipitations", text_font=MONO,
                   text_font_size="10px", text_baseline="middle"))

# snow probability row
p.quad(left=[h - 3 for h in snow_hours], right=[h + 3 for h in snow_hours],
       bottom=-36.6, top=[-34.71 + 0.0329 * v for v in snow_pct],
       fill_color="#ccffff", line_color=None)
p.scatter(snow_hours, [-35.86] * len(snow_hours), marker="circle", size=11,
          fill_color="#a4daf6", line_color="#78c4ee", line_width=1)
p.scatter(snow_hours, [-35.86] * len(snow_hours), marker="asterisk", size=8,
          line_color="#3f9fe0", line_width=1)
p.text(x=snow_hours, y=[-34.86] * len(snow_hours), text=["%d%%" % v for v in snow_pct],
       angle=math.pi / 2, text_align="left", text_baseline="middle",
       text_font=value(MONO), text_font_size="8px", text_font_style="bold", text_color="#0000ff")

# ensemble members
for tv, pv, c in zip(temps, precs, member_colors):
    p.line(hours, tv, line_color=c, line_width=1)
    p.scatter(hours, tv, marker="cross", size=4, line_color=c)
    p.line(hours, pv, line_color=c, line_width=1, y_range_name="mm")
    p.scatter(hours, pv, marker="cross", size=4, line_color=c, y_range_name="mm")

p.line(hours, t_gfs, line_color="black", line_width=3)
p.line(hours, pr_gfs, line_color="black", line_width=3, y_range_name="mm")
p.line(hours, t_ctrl, line_color="#0000ff", line_width=3)
p.line(hours, pr_ctrl, line_color="#0000ff", line_width=3, y_range_name="mm")
p.line(hours, t_mean, line_color="#ff0000", line_width=4)
p.line(hours, pr_mean, line_color="#ff0000", line_width=4, y_range_name="mm")

# ---------------- lower band: dates, legend, captions ----------------
q = figure(width=740, height=100, x_range=Range1d(-30, 414), y_range=Range1d(100, 0),
           output_backend="svg", toolbar_location=None, x_axis_location=None,
           y_axis_location=None, min_border=0)
q.outline_line_color = None
q.extra_x_ranges = {"px": Range1d(0, 740)}

q.segment(x0=[hours[0]], y0=[0.8], x1=[hours[-1]], y1=[0.8], line_color="black", line_width=2)
q.segment(x0=day_ticks, y0=[1.5] * len(day_ticks), x1=day_ticks, y1=[5] * len(day_ticks),
          line_color="#c0c0c0", line_width=1)
q.text(x=[d + 4.2 for d in day_ticks], y=[2.5] * len(day_ticks), text=date_labels,
       angle=math.pi / 2, text_align="right", text_baseline="middle",
       text_font=value(MONO), text_font_size="10px", text_color="black")


def txt(x, y, s, size="10px", bold=False, align="left"):
    q.text(x=[x], y=[y], text=[s], x_range_name="px", text_font=value(MONO),
           text_font_size=size, text_font_style="bold" if bold else "normal",
           text_align=align, text_baseline="middle", text_color="black")


txt(20, 6.5, "(°C)")
txt(710, 6.5, "(mm)")

q.line(x=[35, 66], y=[47, 47], x_range_name="px", line_color="#ff0000", line_width=4)
txt(75, 47, "Moyenne des scénarios")
q.line(x=[225, 256], y=[37, 37], x_range_name="px", line_color="#0000ff", line_width=4)
txt(265, 37, "Run de contrôle")
q.line(x=[225, 256], y=[47, 47], x_range_name="px", line_color="black", line_width=4)
txt(265, 47, "Run GFS")
txt(340, 52, "30 Perts.")
txt(180, 60, "Altitude du modele : 369m")

sq_left = [400 + 11 * k for k in range(len(member_ids))]
q.quad(left=sq_left, right=[l + 10 for l in sq_left], top=[50] * len(sq_left),
       bottom=[56] * len(sq_left), fill_color=member_colors, line_color=None, x_range_name="px")
q.text(x=[l + 5 for l in sq_left], y=[42.5] * len(sq_left), text=member_ids, x_range_name="px",
       text_font=value(MONO), text_font_size="7.5px", text_font_style="bold",
       text_align="center", text_baseline="middle", text_color="black")

q.quad(left=[20], right=[440], top=[67], bottom=[99], fill_color=None,
       line_color="black", line_width=2, x_range_name="px")
txt(30, 77.5, "Diagramme des ensembles GEFS sur 384h : 48.3N 20.1E", size="11.3px", bold=True)
txt(30, 92.5, "Température 2m (°C) , précipitations (mm)")
txt(450, 72, "Ensemble GEFS du 08/02/2026 - 12Z")
txt(450, 92, "Copyright 2026 Meteociel.fr", size="11.6px", bold=True)

open("out.html", "w", encoding="utf-8").write(file_html([p, q], INLINE, title="GEFS"))
